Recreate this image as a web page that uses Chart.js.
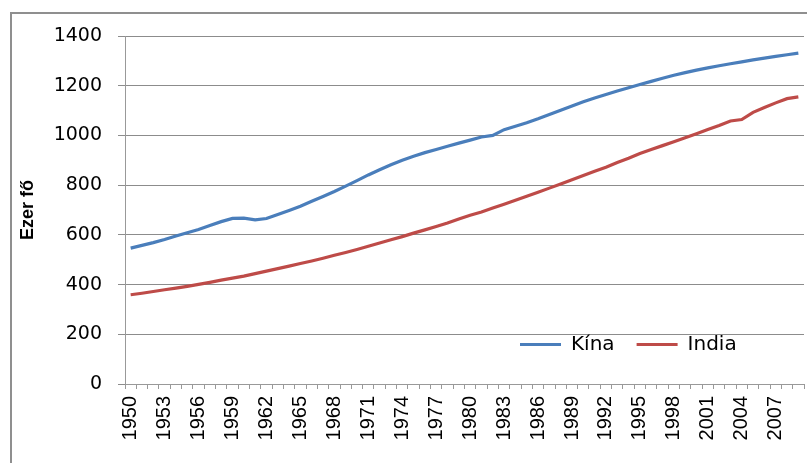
<!DOCTYPE html>
<html>
<head>
<meta charset="utf-8">
<script src="https://cdn.jsdelivr.net/npm/chart.js@4/dist/chart.umd.min.js"></script>
<style>
  html, body { margin: 0; padding: 0; background: #fff; }
  #wrap { position: absolute; left: 0; top: 0; width: 807px; height: 463px; overflow: hidden; }
  #frame { position: absolute; left: 10px; top: 12px; width: 900px; height: 600px;
           border-left: 2px solid #8f8f8f; border-top: 2px solid #8f8f8f; }
  canvas { position: absolute; left: 0; top: 0; }
</style>
</head>
<body>
<div id="wrap">
  <div id="frame"></div>
  <canvas id="c" width="807" height="463"></canvas>
</div>
<script>
const years = [1950,1951,1952,1953,1954,1955,1956,1957,1958,1959,
  1960,1961,1962,1963,1964,1965,1966,1967,1968,1969,
  1970,1971,1972,1973,1974,1975,1976,1977,1978,1979,
  1980,1981,1982,1983,1984,1985,1986,1987,1988,1989,
  1990,1991,1992,1993,1994,1995,1996,1997,1998,1999,
  2000,2001,2002,2003,2004,2005,2006,2007,2008,2009];

const kina = [546.8,557.5,568.9,581.4,595.3,608.7,621.5,637.4,653.2,666.0,
  667.1,660.3,665.8,682.3,698.4,715.2,735.4,754.6,774.5,796.0,
  818.3,841.1,862.0,881.9,900.4,916.4,930.7,943.5,956.2,969.0,
  981.2,993.9,1000.3,1023.3,1036.8,1051.0,1066.8,1084.0,1101.6,1118.7,
  1135.2,1150.8,1165.0,1178.4,1191.8,1204.9,1217.6,1230.1,1241.9,1252.7,
  1262.6,1271.9,1280.4,1288.4,1296.1,1303.7,1311.0,1317.9,1324.7,1331.4];

const india = [359,365,372,379,386,393,401,409,418,426,
  434,444,454,464,474,485,495,506,518,529,
  541,554,567,580,593,607,620,634,648,664,
  679,692,708,723,739,755,771,788,805,822,
  839,856,872,891,908,927,943,959,975,991,
  1007,1024,1040,1058,1064,1093,1112,1131,1148,1155];

const yTicks = [0,200,400,600,800,1000,1200,1400];
const seriesNames = ['Kína','India'];
const yTitle = 'Ezer fő';

const legendInside = {
  id: 'legendInside',
  beforeLayout(chart) {
    const lg = chart.legend;
    if (lg && !lg._patched) {
      const fit = lg.fit;
      lg.fit = function () { fit.call(this); this._realH = this.height; this.height = 0; };
      lg._patched = true;
    }
  },
  afterLayout(chart) {
    const lg = chart.legend;
    if (!lg) return;
    const pad = lg.options.labels.padding;
    const fs = 20;
    lg.left = 520 - pad;
    lg.right = 807;
    lg.top = 344.5 - pad - fs / 2;
    lg.bottom = lg.top + (lg._realH || 60);
    lg.width = lg.right - lg.left;
  }
};

new Chart(document.getElementById('c'), {
  type: 'line',
  data: {
    labels: years,
    datasets: [
      { label: seriesNames[0], data: kina, borderColor: '#4A7EBB', backgroundColor: '#4A7EBB',
        borderWidth: 3.2, pointRadius: 0, tension: 0, fill: false },
      { label: seriesNames[1], data: india, borderColor: '#BE4B48', backgroundColor: '#BE4B48',
        borderWidth: 3.2, pointRadius: 0, tension: 0, fill: false }
    ]
  },
  options: {
    responsive: false,
    devicePixelRatio: 1,
    animation: false,
    layout: { padding: { left: 12, top: 36, right: 3, bottom: 0 } },
    plugins: {
      tooltip: { enabled: false },
      legend: {
        display: true,
        position: 'top',
        align: 'start',
        labels: {
          usePointStyle: true,
          pointStyle: 'line',
          pointStyleWidth: 41,
          padding: 22,
          color: '#000',
          font: { family: 'DejaVu Sans', size: 20 }
        }
      }
    },
    scales: {
      x: {
        type: 'category',
        offset: true,
        afterFit(s) { s.height = 79; s.paddingLeft = 0; s.paddingRight = 0; },
        grid: { display: true, drawOnChartArea: false, drawTicks: true, tickLength: 5, offset: true, color: '#999999' },
        border: { display: true, color: '#999999', width: 1 },
        ticks: {
          autoSkip: false, minRotation: 90, maxRotation: 90, padding: 7,
          color: '#000',
          font: { family: 'Liberation Sans', size: 20 },
          callback(v, i) { return i % 3 === 0 ? String(years[i]) : ''; }
        }
      },
      y: {
        min: 0, max: 1400,
        afterFit(s) { s.width = 113; s.paddingTop = 0; s.paddingBottom = 0; },
        afterBuildTicks(s) { s.ticks = yTicks.map(v => ({ value: v })); },
        grid: { color: '#8c8c8c', tickLength: 7, drawTicks: true },
        border: { display: true, color: '#999999', width: 1 },
        ticks: {
          padding: 16, color: '#000', font: { family: 'DejaVu Sans', size: 19 },
          callback(v) { return String(v); }
        },
        title: {
          display: true, text: yTitle, color: '#000',
          font: { family: 'Liberation Sans', size: 18, weight: 'bold' },
          padding: { top: 5, bottom: 0 }
        }
      }
    }
  },
  plugins: [legendInside]
});
</script>
</body>
</html>
